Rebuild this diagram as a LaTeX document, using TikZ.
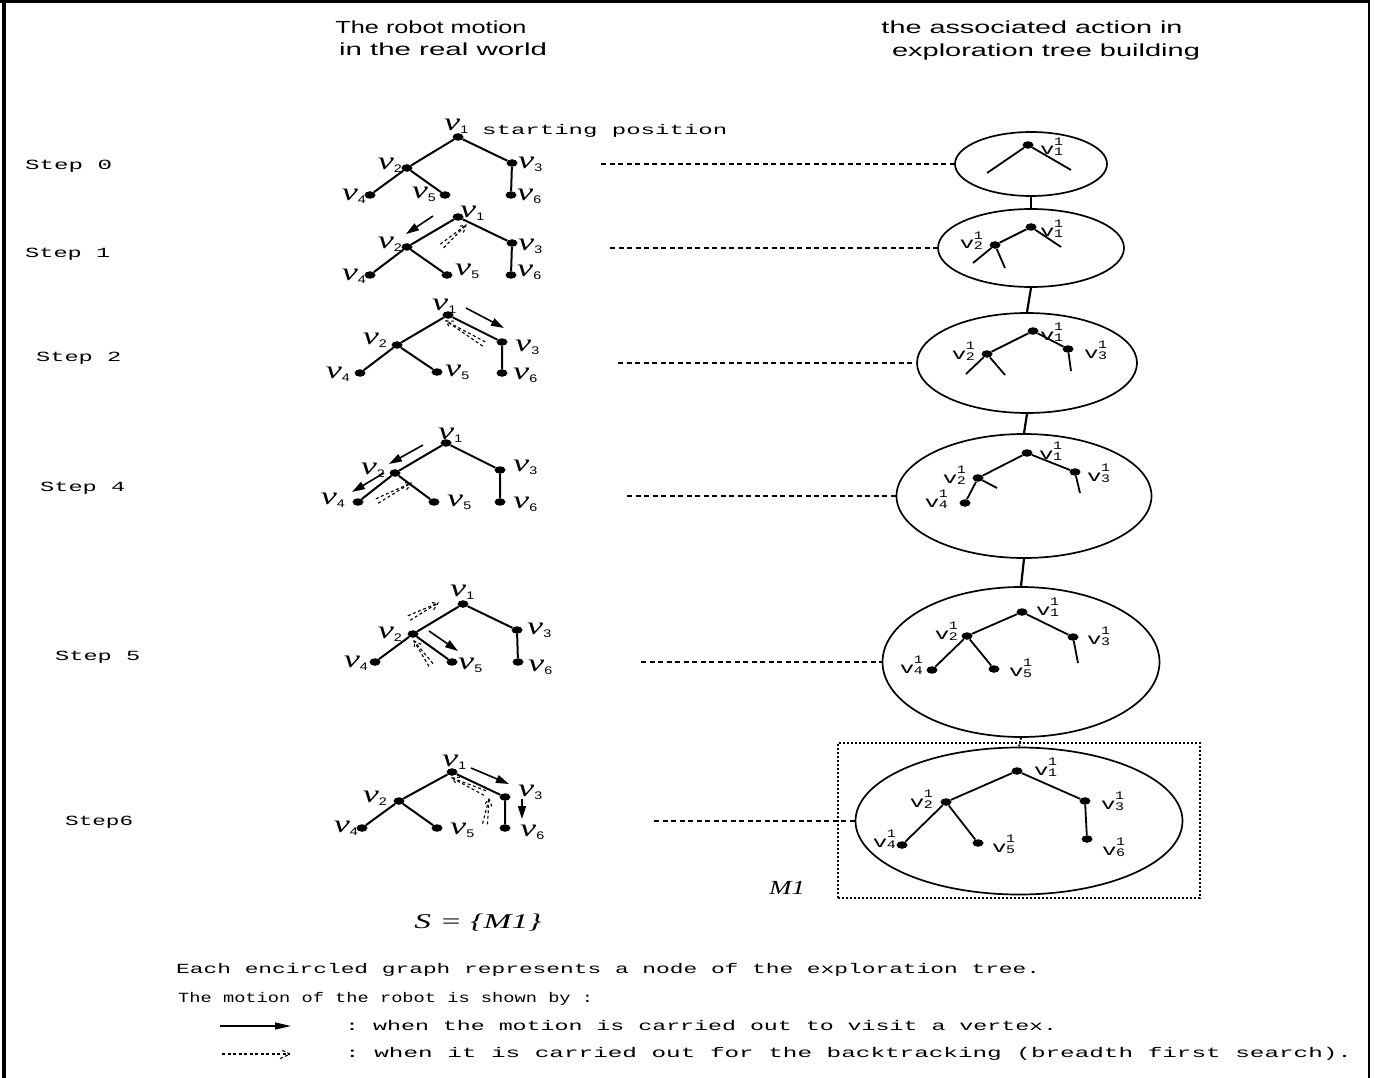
\documentclass[tikz,border=0pt]{standalone}
\usepackage{fontspec}
\setmainfont{Liberation Serif}
\setsansfont{Liberation Sans}
\setmonofont{Liberation Mono}
\usetikzlibrary{shapes.geometric,arrows.meta,calc}
\newcommand\sw[2]{\resizebox{#1pt}{\height}{#2}}
\newcommand\nuL[1]{\scalebox{1.45}[1]{\fontsize{25}{25}\selectfont\itshape ν}\raisebox{-3pt}{\scalebox{1.3}[1]{\sffamily\fontsize{11}{11}\selectfont #1}}}
\newcommand\vL[1]{\scalebox{1.5}[1]{\ttfamily\fontsize{16}{16}\selectfont v}\kern-0.5pt\rlap{\raisebox{9.5pt}{\scalebox{1.3}[1]{\ttfamily\fontsize{11.5}{11.5}\selectfont 1}}}\raisebox{-1pt}{\scalebox{1.3}[1]{\ttfamily\fontsize{11.5}{11.5}\selectfont #1}}}
\newcommand\btk[2]{%
  \draw[bk] ($(#1)!2.5pt!90:(#2)$) -- (#2);
  \draw[bk] ($(#1)!2.5pt!-90:(#2)$) -- (#2);
  \draw[bk] ($(#2)!8pt!30:(#1)$) -- (#2) -- ($(#2)!8pt!-30:(#1)$);}
\newcommand\ledges[1]{\draw[edge] (#1v1) -- (#1v2) (#1v1) -- (#1v3) (#1v2) -- (#1v4) (#1v2) -- (#1v5) (#1v3) -- (#1v6);}
\tikzset{
  dot/.style={ellipse, fill=black, inner sep=0pt, minimum width=11pt, minimum height=7.5pt},
  edge/.style={line width=2pt},
  redge/.style={line width=1.8pt},
  lab/.style={inner sep=0pt},
  oval/.style={draw, ellipse, line width=1.7pt, inner sep=0pt},
  hcon/.style={dash pattern=on 5pt off 3.5pt, line width=1.1pt},
  vcon/.style={line width=2.2pt},
  mv/.style={line width=1.6pt, -{Triangle[length=13pt,width=8pt]}},
  bk/.style={dash pattern=on 3pt off 2.5pt, line width=1.1pt},
  mono/.style={font=\ttfamily\fontsize{14}{14}\selectfont, inner sep=0pt},
  head/.style={font=\sffamily\fontsize{17.5}{17.5}\selectfont, inner sep=0pt}
}
\begin{document}
\begin{tikzpicture}[x=1pt,y=-1pt]
\useasboundingbox (0,0) rectangle (1374,1078);
% frame
\draw[line width=4.5pt] (4,0) -- (4,1078);
\draw[line width=3pt] (0,2) -- (1370,2);
\draw[line width=2.5pt] (1369,0) -- (1369,1078);
% headers
\node[head] (h1a) at (431,27) {\sw{191}{The robot motion}};
\node[head] (h1b) at (443,49) {\sw{208}{in the real world}};
\node[head] (h2a) at (1032,27) {\sw{301}{the associated action in}};
\node[head] (h2b) at (1046,52) {\sw{308}{exploration tree building}};
% step labels
\node[mono,anchor=west] (st0) at (25,166) {\sw{87}{Step 0}};
\node[mono,anchor=west] (st1) at (25,254) {\sw{85}{Step 1}};
\node[mono,anchor=west] (st2) at (36,358) {\sw{85}{Step 2}};
\node[mono,anchor=west] (st4) at (40,488) {\sw{85}{Step 4}};
\node[mono,anchor=west] (st5) at (55,657) {\sw{85}{Step 5}};
\node[mono,anchor=west] (st6) at (65,822) {\sw{68}{Step6}};

% ---------- left trees ----------
% step 0
\foreach \n/\x/\y in {1/458/137,2/407/168,3/512/163,4/370/195,5/445/195,6/511/195} \node[dot] (av\n) at (\x,\y) {};
\ledges{a}
\node[lab,anchor=west] (al1) at (444,126) {\nuL{1}};
\node[lab,anchor=east] (al2) at (402,165) {\nuL{2}};
\node[lab,anchor=west] (al3) at (518,164) {\nuL{3}};
\node[lab,anchor=east] (al4) at (366,196) {\nuL{4}};
\node[lab,anchor=east] (al5) at (436,194) {\nuL{5}};
\node[lab,anchor=west] (al6) at (517,196) {\nuL{6}};
\node[mono,anchor=west] (start) at (482,131) {\sw{245}{starting position}};
% step 1
\foreach \n/\x/\y in {1/458/217,2/407/247,3/512/243,4/370/275,5/447/275,6/511/275} \node[dot] (bv\n) at (\x,\y) {};
\ledges{b}
\node[lab,anchor=west] (bl1) at (460,213) {\nuL{1}};
\node[lab,anchor=east] (bl2) at (402,244) {\nuL{2}};
\node[lab,anchor=west] (bl3) at (518,246) {\nuL{3}};
\node[lab,anchor=east] (bl4) at (366,276) {\nuL{4}};
\node[lab,anchor=west] (bl5) at (455,271) {\nuL{5}};
\node[lab,anchor=west] (bl6) at (517,272) {\nuL{6}};
\coordinate (b1s) at (433,216); \coordinate (b1e) at (406,234);
\draw[mv] (b1s) -- (b1e);
\coordinate (b2s) at (442,246); \coordinate (b2e) at (466,225);
\btk{b2s}{b2e}
% step 2
\foreach \n/\x/\y in {1/448/315,2/397/345,3/502/342,4/360/373,5/437/372,6/502/373} \node[dot] (cv\n) at (\x,\y) {};
\ledges{c}
\node[lab,anchor=west] (cl1) at (432,306) {\nuL{1}};
\node[lab,anchor=east] (cl2) at (387,340) {\nuL{2}};
\node[lab,anchor=west] (cl3) at (515,347) {\nuL{3}};
\node[lab,anchor=east] (cl4) at (350,374) {\nuL{4}};
\node[lab,anchor=west] (cl5) at (445,372) {\nuL{5}};
\node[lab,anchor=west] (cl6) at (513,375) {\nuL{6}};
\coordinate (c1s) at (466,308); \coordinate (c1e) at (504,328);
\draw[mv] (c1s) -- (c1e);
\coordinate (c2s) at (484,344); \coordinate (c2e) at (446,321);
\btk{c2s}{c2e}
% step 4
\foreach \n/\x/\y in {1/446/443,2/395/473,3/500/470,4/358/502,5/434/502,6/500/502} \node[dot] (dv\n) at (\x,\y) {};
\ledges{d}
\node[lab,anchor=west] (dl1) at (438,435) {\nuL{1}};
\node[lab,anchor=east] (dl2) at (385,470) {\nuL{2}};
\node[lab,anchor=west] (dl3) at (513,467) {\nuL{3}};
\node[lab,anchor=east] (dl4) at (345,500) {\nuL{4}};
\node[lab,anchor=west] (dl5) at (447,502) {\nuL{5}};
\node[lab,anchor=west] (dl6) at (513,504) {\nuL{6}};
\coordinate (d1s) at (423,445); \coordinate (d1e) at (389,464);
\draw[mv] (d1s) -- (d1e);
\coordinate (d2s) at (384,473); \coordinate (d2e) at (352,492);
\draw[mv] (d2s) -- (d2e);
\coordinate (d3s) at (377,501); \coordinate (d3e) at (411,483);
\btk{d3s}{d3e}
% step 5
\foreach \n/\x/\y in {1/463/604,2/413/634,3/517/630,4/375/662,5/452/662,6/518/662} \node[dot] (ev\n) at (\x,\y) {};
\ledges{e}
\node[lab,anchor=west] (el1) at (450,592) {\nuL{1}};
\node[lab,anchor=east] (el2) at (402,634) {\nuL{2}};
\node[lab,anchor=west] (el3) at (527,630) {\nuL{3}};
\node[lab,anchor=east] (el4) at (368,663) {\nuL{4}};
\node[lab,anchor=west] (el5) at (458,665) {\nuL{5}};
\node[lab,anchor=west] (el6) at (528,667) {\nuL{6}};
\coordinate (e1s) at (429,631); \coordinate (e1e) at (458,651);
\draw[mv] (e1s) -- (e1e);
\coordinate (e2s) at (409,618); \coordinate (e2e) at (438,603);
\btk{e2s}{e2e}
\coordinate (e3s) at (431,665); \coordinate (e3e) at (414,641);
\btk{e3s}{e3e}
% step 6
\foreach \n/\x/\y in {1/452/772,2/399/801,3/505/797,4/362/828,5/437/828,6/505/828} \node[dot] (fv\n) at (\x,\y) {};
\ledges{f}
\node[lab,anchor=west] (fl1) at (442,762) {\nuL{1}};
\node[lab,anchor=east] (fl2) at (387,798) {\nuL{2}};
\node[lab,anchor=west] (fl3) at (518,792) {\nuL{3}};
\node[lab,anchor=east] (fl4) at (358,828) {\nuL{4}};
\node[lab,anchor=west] (fl5) at (450,830) {\nuL{5}};
\node[lab,anchor=west] (fl6) at (520,832) {\nuL{6}};
\coordinate (f1s) at (471,768); \coordinate (f1e) at (509,784);
\draw[mv] (f1s) -- (f1e);
\coordinate (f2s) at (522,799); \coordinate (f2e) at (522,819);
\draw[mv] (f2s) -- (f2e);
\coordinate (f3s) at (485,793); \coordinate (f3e) at (452,778);
\btk{f3s}{f3e}
\coordinate (f4s) at (485,824); \coordinate (f4e) at (489,799);
\btk{f4s}{f4e}

% ---------- ellipses ----------
\node[oval, minimum width=152pt, minimum height=64pt] (E0) at (1031,164) {};
\node[oval, minimum width=186pt, minimum height=78pt] (E1) at (1031,248) {};
\node[oval, minimum width=220pt, minimum height=100pt] (E2) at (1027,363) {};
\node[oval, minimum width=255pt, minimum height=124pt] (E3) at (1024,496) {};
\node[oval, minimum width=277pt, minimum height=150pt] (E4) at (1021,662) {};
\node[oval, minimum width=327pt, minimum height=147pt] (E5) at (1019,821) {};
\draw[vcon] (E0.south) -- (E1.north);
\draw[vcon] (E1.south) -- (E2.north);
\draw[vcon] (E2.south) -- (E3.north);
\draw[vcon] (E3.south) -- (E4.north);
\draw[line width=1.8pt, dash pattern=on 1.8pt off 1.6pt] (E4.south) -- (E5.north);
\node[draw, dash pattern=on 2.2pt off 1.8pt, line width=1.6pt, minimum width=362pt, minimum height=155pt, inner sep=0pt] (box) at (1019,820.5) {};
\node[lab] (m1) at (787,888) {\sw{36}{\fontsize{20}{20}\selectfont\itshape M1}};
% horizontal dashed connectors
\coordinate (h0) at (601,164); \draw[hcon] (h0) -- (E0.west);
\coordinate (h1) at (610,248); \draw[hcon] (h1) -- (E1.west);
\coordinate (h2) at (618,363); \draw[hcon] (h2) -- (E2.west);
\coordinate (h3) at (627,496); \draw[hcon] (h3) -- (E3.west);
\coordinate (h4) at (641,662); \draw[hcon] (h4) -- (E4.west);
\coordinate (h5) at (654,821); \draw[hcon] (h5) -- (E5.west);

% ---------- trees in ellipses ----------
% E0
\node[dot] (p0v1) at (1028,145) {};
\coordinate (p0a) at (987,173); \coordinate (p0b) at (1071,170);
\draw[redge] (p0v1) -- (p0a) (p0v1) -- (p0b);
\node[lab,anchor=base west] (p0l1) at (1040,155) {\vL{1}};
% E1
\node[dot] (p1v1) at (1031,227) {};
\node[dot] (p1v2) at (995,245) {};
\coordinate (p1a) at (1061,247); \coordinate (p1b) at (973,263); \coordinate (p1c) at (1005,268);
\draw[redge] (p1v1) -- (p1v2) (p1v1) -- (p1a) (p1v2) -- (p1b) (p1v2) -- (p1c);
\node[lab,anchor=base west] (p1l1) at (1040,237) {\vL{1}};
\node[lab,anchor=base east] (p1l2) at (983,249) {\vL{2}};
% E2
\node[dot] (p2v1) at (1033,331) {};
\node[dot] (p2v2) at (987,354) {};
\node[dot] (p2v3) at (1068,349) {};
\coordinate (p2a) at (1071,371); \coordinate (p2b) at (966,374); \coordinate (p2c) at (1005,375);
\draw[redge] (p2v1) -- (p2v2) (p2v1) -- (p2v3) (p2v3) -- (p2a) (p2v2) -- (p2b) (p2v2) -- (p2c);
\node[lab,anchor=base west] (p2l1) at (1040,340) {\vL{1}};
\node[lab,anchor=base east] (p2l2) at (975,359) {\vL{2}};
\node[lab,anchor=base west] (p2l3) at (1084,358) {\vL{3}};
% E3
\node[dot] (p3v1) at (1027,453) {};
\node[dot] (p3v2) at (978,478) {};
\node[dot] (p3v3) at (1075,472) {};
\node[dot] (p3v4) at (965,503) {};
\coordinate (p3a) at (1080,493); \coordinate (p3b) at (997,488);
\draw[redge] (p3v1) -- (p3v2) (p3v1) -- (p3v3) (p3v3) -- (p3a) (p3v2) -- (p3b) (p3v2) -- (p3v4);
\node[lab,anchor=base west] (p3l1) at (1039,459) {\vL{1}};
\node[lab,anchor=base east] (p3l2) at (966,483) {\vL{2}};
\node[lab,anchor=base west] (p3l3) at (1087,481) {\vL{3}};
\node[lab,anchor=base east] (p3l4) at (948,507) {\vL{4}};
% E4
\node[dot] (p4v1) at (1022,612) {};
\node[dot] (p4v2) at (967,636) {};
\node[dot] (p4v3) at (1073,637) {};
\node[dot] (p4v4) at (932,670) {};
\node[dot] (p4v5) at (994,669) {};
\coordinate (p4a) at (1078,663);
\draw[redge] (p4v1) -- (p4v2) (p4v1) -- (p4v3) (p4v3) -- (p4a) (p4v2) -- (p4v4) (p4v2) -- (p4v5);
\node[lab,anchor=base west] (p4l1) at (1036,615) {\vL{1}};
\node[lab,anchor=base east] (p4l2) at (958,639) {\vL{2}};
\node[lab,anchor=base west] (p4l3) at (1087,644) {\vL{3}};
\node[lab,anchor=base east] (p4l4) at (923,673) {\vL{4}};
\node[lab,anchor=base west] (p4l5) at (1009,676) {\vL{5}};
% E5
\node[dot] (p5v1) at (1017,771) {};
\node[dot] (p5v2) at (946,802) {};
\node[dot] (p5v3) at (1085,801) {};
\node[dot] (p5v4) at (902,845) {};
\node[dot] (p5v5) at (978,843) {};
\node[dot] (p5v6) at (1087,839) {};
\draw[redge] (p5v1) -- (p5v2) (p5v1) -- (p5v3) (p5v2) -- (p5v4) (p5v2) -- (p5v5) (p5v3) -- (p5v6);
\node[lab,anchor=base west] (p5l1) at (1034,775) {\vL{1}};
\node[lab,anchor=base east] (p5l2) at (933,807) {\vL{2}};
\node[lab,anchor=base west] (p5l3) at (1101,809) {\vL{3}};
\node[lab,anchor=base east] (p5l4) at (896,847) {\vL{4}};
\node[lab,anchor=base west] (p5l5) at (992,852) {\vL{5}};
\node[lab,anchor=base west] (p5l6) at (1102,855) {\vL{6}};

% ---------- bottom ----------
\node[lab] (S) at (478,923) {\sw{127}{\fontsize{21}{21}\selectfont\itshape S = \{M1\}}};
\node[mono,anchor=west] (lg1) at (176,970) {\sw{864}{Each encircled graph represents a node of the exploration tree.}};
\node[mono,anchor=west] (lg2) at (178,999) {\sw{415}{The motion of the robot is shown by :}};
\coordinate (la1) at (220,1026); \coordinate (la2) at (291,1026);
\draw[line width=1.5pt, -{Triangle[length=16pt,width=7pt]}] (la1) -- (la2);
\node[mono,anchor=west] (lg3) at (345,1026) {\sw{712}{: when the motion is carried out to visit a vertex.}};
\coordinate (lb1) at (222,1054); \coordinate (lb2) at (290,1054);
\draw[bk] (lb1) -- (lb2);
\draw[bk] ($(lb2)!11pt!25:(lb1)$) -- (lb2) -- ($(lb2)!11pt!-25:(lb1)$);
\node[mono,anchor=west] (lg4) at (345,1054) {\sw{1007}{: when it is carried out for the backtracking (breadth first search).}};
\end{tikzpicture}
\end{document}
